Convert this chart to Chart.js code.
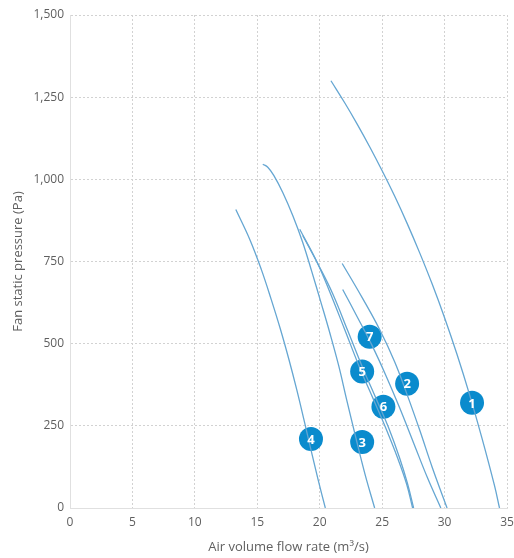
<!DOCTYPE html>
<html lang="en">
<head>
    <meta charset="UTF-8">
    <title>Fan curves</title>
    <script src="https://cdn.jsdelivr.net/npm/chart.js@4.4.1/dist/chart.umd.min.js"></script>
    <style>
        html, body { margin: 0; padding: 0; background: #fff; }
        #wrap { width: 514px; height: 558px; }
    </style>
</head>
<body>
<div id="wrap"><canvas id="fanChart" width="514" height="558"></canvas></div>
<script>
    // ------------------------------------------------------------------ data

    var flow1 = [20.9, 22.0, 23.0, 24.0, 25.0, 26.0, 27.0, 28.0, 29.0, 30.0, 31.0, 32.0, 33.0, 34.0, 34.4]
    var pres1 = [1300, 1233, 1168, 1099, 1026, 949, 866, 777, 682, 579, 467, 345, 212, 68, 0]

    var flow2 = [21.8, 23.4, 24.8, 26.0, 27.0, 28.0, 29.0, 30.2]
    var pres2 = [744, 640, 543, 445, 345, 238, 125, 0]

    var flow3 = [15.44, 15.84, 16.32, 17.04, 17.84, 18.64, 19.36, 20.08, 20.8, 21.52, 22.16, 22.88, 23.62, 24.4]
    var pres3 = [1046, 1037, 1012, 960, 890, 808, 720, 628, 534, 433, 329, 216, 104, 0]

    var flow4 = [13.28, 14.4, 15.32, 16.12, 16.86, 17.54, 18.16, 18.74, 19.3, 19.88, 20.45]
    var pres4 = [908, 817, 726, 634, 543, 451, 360, 268, 177, 85, 0]

    var flow5 = [18.4, 19.76, 20.8, 22.0, 23.2, 24.32, 25.28, 26.24, 26.96, 27.44]
    var pres5 = [848, 750, 658, 543, 427, 329, 244, 152, 73, 0]

    var flow6 = [18.64, 19.92, 21.04, 22.24, 23.44, 24.56, 25.52, 26.4, 27.04, 27.52]
    var pres6 = [829, 738, 652, 540, 427, 329, 244, 152, 73, 0]

    var flow7 = [21.84, 23.04, 24.16, 25.28, 26.4, 27.52, 28.64, 29.7]
    var pres7 = [665, 579, 497, 405, 305, 198, 91, 0]

    var badgeNames = ['1', '2', '3', '4', '5', '6', '7']
    var badgeFlow = [32.2, 27.0, 23.4, 19.3, 23.4, 25.1, 24.0]
    var badgePres = [320, 378, 201, 210, 415, 308, 521]

    // ------------------------------------------------------------- helpers

    var curveColor = '#65a6d2'
    var badgeColor = '#0a8bcd'
    var textColor = '#5f5f5f'
    var gridColor = '#d2d2d2'

    function toPoints (xs, ys) {
      return xs.map(function (x, i) { return { x: x, y: ys[i] } })
    }

    function curve (xs, ys) {
      return {
        data: toPoints(xs, ys),
        borderColor: curveColor,
        borderWidth: 1.3,
        pointRadius: 0,
        showLine: true,
        fill: false,
        tension: 0.4
      }
    }

    var curves = [
      curve(flow1, pres1), curve(flow2, pres2), curve(flow3, pres3), curve(flow4, pres4),
      curve(flow5, pres5), curve(flow6, pres6), curve(flow7, pres7)
    ]

    var badges = {
      data: toPoints(badgeFlow, badgePres),
      showLine: false,
      pointRadius: 12,
      pointHoverRadius: 12,
      pointBackgroundColor: badgeColor,
      pointBorderWidth: 0
    }

    // numbers inside the blue badges
    var badgeText = {
      id: 'badgeText',
      afterDatasetsDraw: function (chart) {
        var meta = chart.getDatasetMeta(curves.length)
        var ctx = chart.ctx
        ctx.save()
        ctx.fillStyle = '#fff'
        ctx.font = 'bold 13px "Open Sans", sans-serif'
        ctx.textAlign = 'center'
        ctx.textBaseline = 'middle'
        meta.data.forEach(function (pt, i) {
          ctx.fillText(badgeNames[i], pt.x, pt.y + 1)
        })
        ctx.restore()
      }
    }

    // -------------------------------------------------------------- chart

    var tickFont = { family: 'Open Sans', size: 12 }
    var titleFont = { family: 'Open Sans', size: 13 }

    var ctx = document.getElementById('fanChart').getContext('2d')
    var fanChart = new Chart(ctx, {
      type: 'scatter',
      data: { datasets: curves.concat([badges]) },
      plugins: [badgeText],
      options: {
        responsive: false,
        animation: false,
        layout: { autoPadding: false, padding: { top: 15, right: 7, left: 0, bottom: 0 } },
        plugins: { legend: { display: false }, tooltip: { enabled: false } },
        scales: {
          x: {
            type: 'linear',
            min: 0,
            max: 35,
            ticks: { stepSize: 5, color: textColor, font: tickFont, padding: 7 },
            grid: { color: gridColor, drawTicks: false, lineWidth: 1 },
            border: { display: true, color: '#e0e0e0', dash: [2, 2] },
            title: {
              display: true,
              text: 'Air volume flow rate (m³/s)',
              color: textColor,
              font: titleFont,
              padding: { top: 0, bottom: 3 }
            },
            afterFit: function (scale) {
              scale.height = 50
              scale.paddingLeft = 0
              scale.paddingRight = 0
            }
          },
          y: {
            type: 'linear',
            min: 0,
            max: 1500,
            ticks: {
              stepSize: 250,
              color: textColor,
              font: tickFont,
              padding: 6,
              callback: function (v) { return v.toLocaleString('en-US') }
            },
            grid: { color: gridColor, drawTicks: false, lineWidth: 1 },
            border: { display: true, color: '#e0e0e0', dash: [2, 2] },
            title: {
              display: true,
              text: 'Fan static pressure (Pa)',
              color: textColor,
              font: titleFont,
              padding: { top: 10, bottom: 0 }
            },
            afterFit: function (scale) {
              scale.width = 70
              scale.paddingTop = 0
              scale.paddingBottom = 0
            }
          }
        }
      }
    })
</script>
</body>
</html>
